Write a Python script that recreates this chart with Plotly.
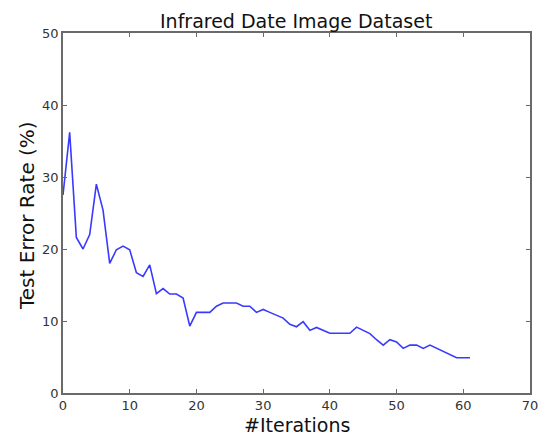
import plotly.graph_objects as go

iterations = list(range(0, 62))
error_rate = [
    27.5, 36.2, 21.6, 20.0, 22.0, 29.0, 25.4, 18.0, 19.9, 20.4,
    19.9, 16.7, 16.2, 17.8, 13.8, 14.5, 13.75, 13.75, 13.2, 9.3,
    11.2, 11.2, 11.2, 12.05, 12.5, 12.5, 12.5, 12.05, 12.05, 11.2,
    11.6, 11.2, 10.8, 10.4, 9.55, 9.2, 9.9, 8.7, 9.1, 8.7,
    8.3, 8.3, 8.3, 8.3, 9.15, 8.7, 8.25, 7.4, 6.65, 7.4,
    7.1, 6.2, 6.65, 6.65, 6.2, 6.65, 6.2, 5.8, 5.35, 4.9,
    4.9, 4.9,
]
x_ticks = [0, 10, 20, 30, 40, 50, 60, 70]
y_ticks = [0, 10, 20, 30, 40, 50]

font_family = "DejaVu Sans"
frame_color = "#6a6a6a"
W, H = 550, 443
L, R, T, B = 63, 20, 33, 50
PW, PH = W - L - R, H - T - B

fig = go.Figure()
fig.add_trace(go.Scatter(
    x=iterations, y=error_rate, mode="lines",
    line=dict(color="#3a3aff", width=1.6),
    showlegend=False,
))

axis_common = dict(
    showgrid=False, zeroline=False, automargin=False,
    showline=True, linecolor=frame_color, linewidth=1.6, mirror="ticks",
    ticks="inside", ticklen=4, tickwidth=1, tickcolor=frame_color,
    tickfont=dict(family=font_family, size=13, color="#333333"),
)

fig.update_layout(
    width=W, height=H,
    margin=dict(l=L, r=R, t=T, b=B, autoexpand=False),
    paper_bgcolor="white", plot_bgcolor="white",
    xaxis=dict(range=[0, 70], tickvals=x_ticks, **axis_common),
    yaxis=dict(range=[0, 50], tickvals=y_ticks, **axis_common),
    annotations=[
        dict(text="Infrared Date Image Dataset", xref="paper", yref="paper",
             x=(296 - L) / PW, y=1 + (T - 21) / PH, xanchor="center", yanchor="middle",
             showarrow=False, font=dict(family=font_family, size=19, color="#111111")),
        dict(text="#Iterations", xref="paper", yref="paper",
             x=(297 - L) / PW, y=-(425 - (H - B)) / PH, xanchor="center", yanchor="middle",
             showarrow=False, font=dict(family=font_family, size=19, color="#111111")),
        dict(text="Test Error Rate (%)", xref="paper", yref="paper", textangle=-90,
             x=-(L - 27) / PW, y=(H - B - 216) / PH, xanchor="center", yanchor="middle",
             showarrow=False, font=dict(family=font_family, size=20, color="#111111")),
    ],
)

fig.write_html("out.html", config={"displayModeBar": False},
               post_script="document.body.style.margin='0';document.body.style.overflow='hidden';")
